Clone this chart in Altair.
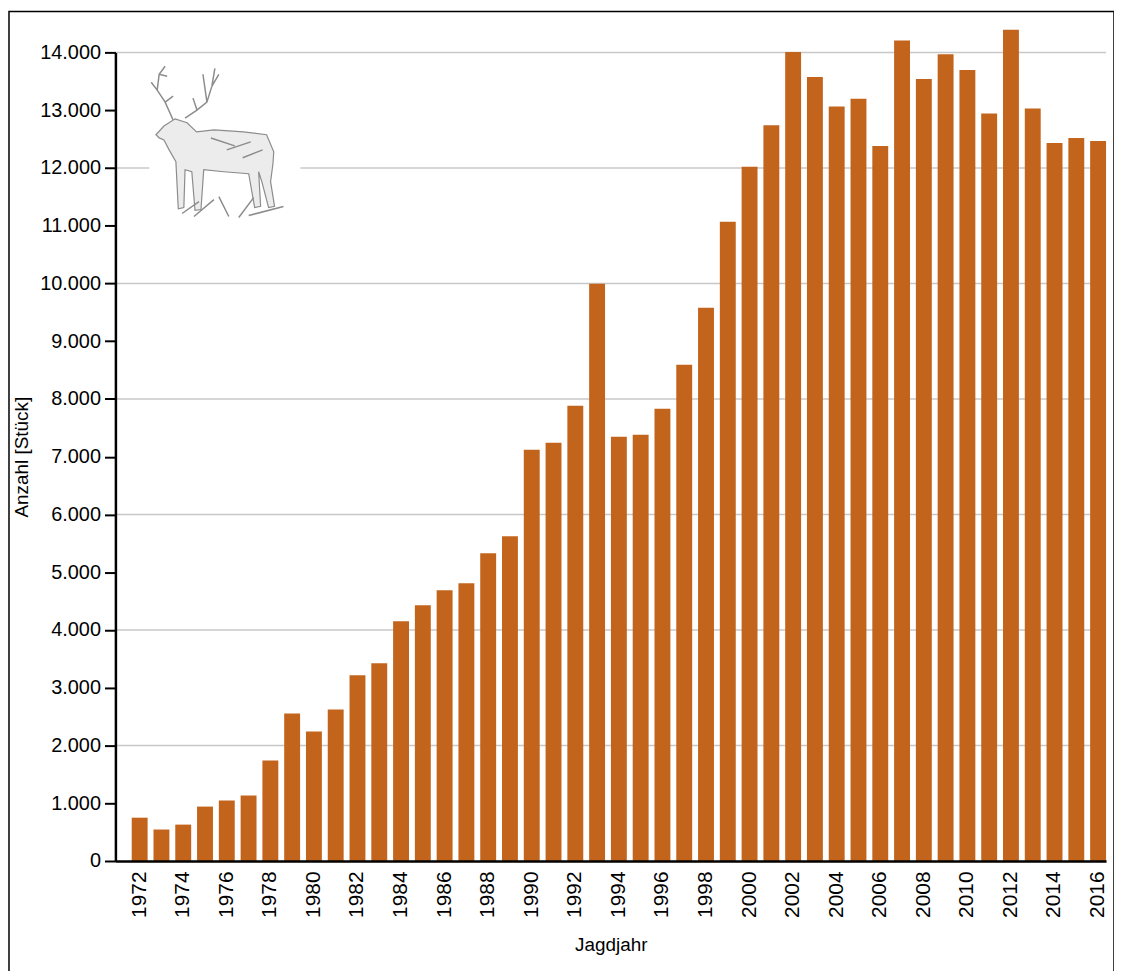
import altair as alt
import pandas as pd

# Jagdstrecke Damwild je Jagdjahr
years = list(range(1972, 2017))
counts = [
    750, 545, 630, 942, 1046, 1132, 1740, 2555, 2243, 2624,
    3214, 3422, 4150, 4428, 4688, 4809, 5329, 5624, 7118, 7240,
    7883, 9995, 7344, 7379, 7831, 8593, 9580, 11067, 12022, 12738,
    14005, 13574, 13062, 13198, 12380, 14204, 13540, 13966, 13693, 12943,
    14392, 13028, 12431, 12516, 12465,
]
y_ticks = list(range(0, 15000, 1000))
grid_lines = list(range(2000, 16000, 2000))

W, H = 996, 813
FONT = "Liberation Sans"
BAR = "#c3641d"

data = pd.DataFrame({"Jahr": years, "Anzahl": counts})
grid_df = pd.DataFrame({"v": grid_lines})
one = pd.DataFrame({"k": [0]})

# rough line-art deer (path in [-1, 1] box)
deer_body = (
    "M-0.79,-0.09 L-0.69,-0.2 L-0.55,-0.29 L-0.4,-0.24 L-0.28,-0.125 L-0.06,-0.15 "
    "L0.31,-0.125 L0.6,-0.09 L0.69,0.125 L0.68,0.275 L0.65,0.5 L0.7,0.81 L0.625,0.825 "
    "L0.54,0.5 L0.5,0.375 L0.525,0.81 L0.45,0.825 L0.375,0.4 L0.06,0.375 L-0.19,0.35 "
    "L-0.225,0.85 L-0.3,0.86 L-0.34,0.375 L-0.425,0.35 L-0.44,0.825 L-0.51,0.84 "
    "L-0.54,0.25 L-0.625,0.1 L-0.69,-0.025 L-0.75,-0.05 Z"
)
deer_lines = (
    "M-0.575,-0.275 L-0.675,-0.5 L-0.775,-0.65 L-0.75,-0.85 L-0.675,-0.95 "
    "M-0.675,-0.5 L-0.575,-0.575 M-0.775,-0.65 L-0.85,-0.75 M-0.75,-0.85 L-0.65,-0.825 "
    "M-0.425,-0.3 L-0.275,-0.4 L-0.15,-0.5 L-0.0875,-0.7 L-0.05,-0.925 "
    "M-0.275,-0.4 L-0.325,-0.55 M-0.15,-0.5 L-0.2,-0.85 M-0.0875,-0.7 L0,-0.85 "
    "M-0.4625,0.9 L-0.25,0.75 M-0.3125,0.9375 L-0.0625,0.725 M0.125,0.9375 L0,0.6875 "
    "M0.375,0.925 L0.8125,0.8125 M0.25,0.95 L0.4375,0.7 "
    "M-0.1,-0.05 L0.2,0.05 M0.1,0.1 L0.4,0.0 M0.3,0.2 L0.55,0.1"
)

y_scale = alt.Scale(domain=[0, 14000], nice=False, zero=True)
y_axis = alt.Axis(
    values=y_ticks,
    grid=False,
    labelExpr="replace(format(datum.value, ','), ',', '.')",
    tickSize=11,
    tickWidth=2,
    tickColor="black",
    domainColor="black",
    domainWidth=2.5,
    labelPadding=4,
    labelFontSize=20,
    titlePadding=8,
    zindex=1,
)

grid = alt.Chart(grid_df).mark_rule(color="#c8c8c8", strokeWidth=1.5).encode(
    y=alt.Y("v:Q", scale=y_scale, axis=y_axis, title="Anzahl [Stück]")
)

mask = alt.Chart(one).mark_rect(color="white").encode(
    x=alt.value(34), x2=alt.value(186), y=alt.value(8), y2=alt.value(172)
)

deer_fill = alt.Chart(one).mark_point(
    shape=deer_body, size=25600, filled=True, fill="#ececec", stroke="#8c8c8c",
    strokeWidth=1.2, opacity=1
).encode(x=alt.value(104), y=alt.value(90))

deer_stroke = alt.Chart(one).mark_point(
    shape=deer_lines, size=25600, filled=False, stroke="#8c8c8c", strokeWidth=1.5,
    opacity=1
).encode(x=alt.value(104), y=alt.value(90))

bars = alt.Chart(data).mark_bar(color=BAR, clip=False).encode(
    x=alt.X(
        "Jahr:O",
        title="Jagdjahr",
        scale=alt.Scale(paddingInner=0.27, paddingOuter=0.374, align=1),
        axis=alt.Axis(
            labelAngle=-90,
            labelExpr="(datum.value - 1972) % 2 == 0 ? datum.label : ''",
            ticks=False,
            labelPadding=10,
            labelFontSize=21,
            titlePadding=18,
            domainColor="black",
            domainWidth=2.5,
            zindex=1,
        ),
    ),
    y=alt.Y("Anzahl:Q", title="Anzahl [Stück]", scale=y_scale, axis=y_axis),
)

frame = alt.Chart(one).mark_rect(filled=False, stroke="black", strokeWidth=1.5).encode(
    x=alt.value(-107), x2=alt.value(1004), y=alt.value(-41), y2=alt.value(940)
)

chart = (
    alt.layer(grid, mask, deer_fill, deer_stroke, bars, frame)
    .properties(
        width=W,
        height=H,
        autosize=alt.AutoSizeParams(type="none"),
        padding={"left": 108, "top": 42, "right": 8, "bottom": 112},
    )
    .configure_view(stroke=None)
    .configure_axis(
        labelFont=FONT,
        titleFont=FONT,
        titleFontSize=19,
        labelColor="black",
        titleColor="black",
        titleFontWeight="normal",
    )
)

chart.save("out.html", embed_options={"renderer": "svg", "actions": False})
